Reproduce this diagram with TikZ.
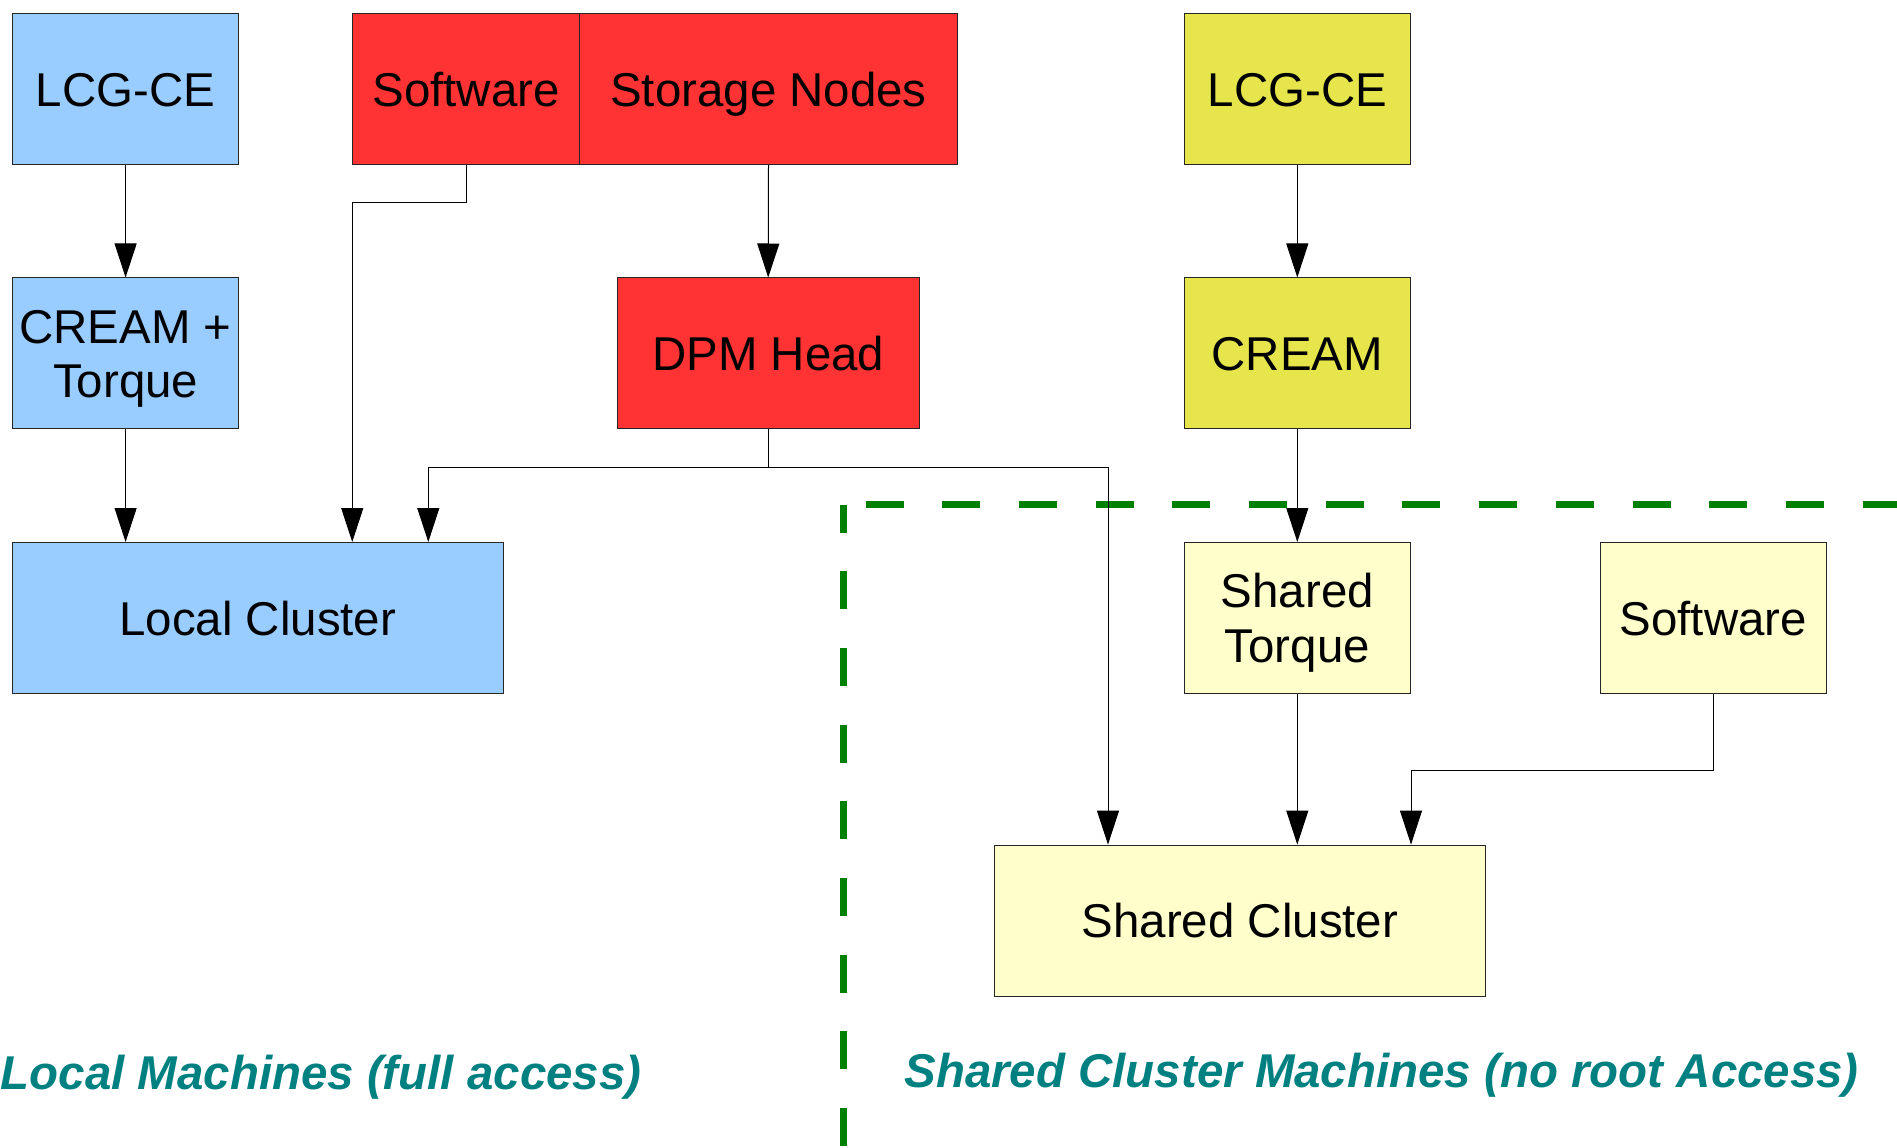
\documentclass[tikz,border=0pt]{standalone}
\usepackage{fontspec}
\setmainfont{Liberation Sans}
\usetikzlibrary{arrows.meta}
\definecolor{azul}{RGB}{153,204,255}
\definecolor{rojo}{RGB}{255,51,51}
\definecolor{amarillo}{RGB}{230,230,76}
\definecolor{crema}{RGB}{255,255,204}
\definecolor{verde}{RGB}{0,128,0}
\definecolor{turquesa}{RGB}{0,128,128}

\begin{document}
\begin{tikzpicture}[x=0.1mm, y=-0.1mm,
    caja/.style={draw=black!85, line width=0.1mm, minimum width=22.65mm, minimum height=15.1mm,
      inner sep=0pt, align=center, font=\fontsize{13.5pt}{15.5pt}\selectfont,
      text height=3.4mm, text depth=0pt},
    dos/.style={text height=8.85mm},
    ancha/.style={caja, minimum width=49.1mm},
    flecha/.style={line width=0.1mm, -{Triangle[width=2.2mm, length=3.4mm]}},
    zona/.style={font=\fontsize{13.5pt}{15.5pt}\selectfont\bfseries\itshape, text=turquesa,
      inner sep=0pt, anchor=base west}]
    \useasboundingbox (0,0) rectangle (1897,1148);

    % Limite de la zona compartida
    \draw[verde, line width=0.65mm, dash pattern=on 3.8mm off 3.87mm, dash phase=1mm] (843.5,504.6) -- (843.5,1160);
    \draw[verde, line width=0.65mm, dash pattern=on 3.8mm off 3.87mm, dash phase=5.47mm] (843.5,504.6) -- (1910,504.6);

    % Maquinas locales
    \node[caja, fill=azul] (lcgL) at (125.6,89.1) {LCG-CE};
    \node[caja, dos, fill=azul] (creamL) at (125.6,353.5) {CREAM +\\Torque};
    \node[ancha, fill=azul] (localcl) at (257.8,618) {Local Cluster};

    % Almacenamiento
    \node[caja, fill=rojo] (softR) at (466,89.1) {Software};
    \node[caja, fill=rojo, minimum width=37.8mm] (storage) at (768.5,89.1) {Storage Nodes};
    \node[caja, fill=rojo, minimum width=30.2mm] (dpm) at (768.2,353.5) {DPM Head};

    % Cluster compartido
    \node[caja, fill=amarillo] (lcgR) at (1297.3,89.1) {LCG-CE};
    \node[caja, fill=amarillo] (creamR) at (1297.3,353.5) {CREAM};
    \node[caja, dos, fill=crema] (storque) at (1297.3,618) {Shared\\Torque};
    \node[caja, fill=crema] (softY) at (1713.3,618) {Software};
    \node[ancha, fill=crema] (shcl) at (1240,920.6) {Shared Cluster};

    % Conexiones
    \draw[flecha] (lcgL) -- (creamL);
    \draw[flecha] (creamL.south) -- (creamL.south |- localcl.north);
    \draw[flecha] (softR.south) -- ++(0,37.6) -| (softR.west |- localcl.north);
    \draw[flecha] (storage.south) -- (dpm.north);
    \coordinate (dpmcruce) at ([yshift=-3.77mm]dpm.south);
    \draw[flecha] (dpm.south) -- (dpmcruce) -| ([xshift=-7.55mm]localcl.north east);
    \draw[flecha] (dpmcruce) -| ([xshift=11.4mm]shcl.north west);
    \draw[flecha] (lcgR) -- (creamR);
    \draw[flecha] (creamR) -- (storque);
    \draw[flecha] (storque.south) -- (storque.south |- shcl.north);
    \draw[flecha] (softY.south) -- ++(0,76.7) -| ([xshift=-7.5mm]shcl.north east);

    % Etiquetas de zonas
    \node[zona] (localtxt) at (0,1089) {Local Machines (full access)};
    \node[zona] (sharedtxt) at (903.7,1087) {Shared Cluster Machines (no root Access)};
\end{tikzpicture}
\end{document}
